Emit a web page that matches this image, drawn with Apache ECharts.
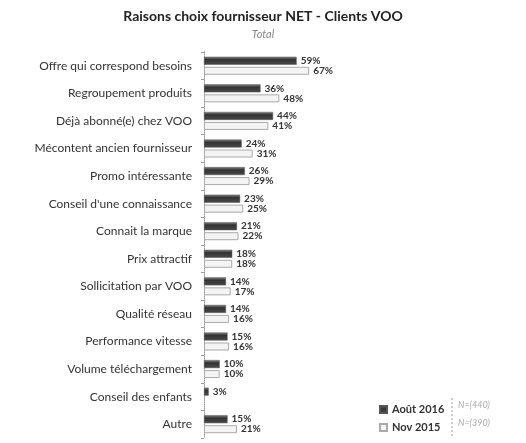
<!DOCTYPE html>
<html>
<head>
<meta charset="utf-8">
<script src="https://cdn.jsdelivr.net/npm/echarts@6/dist/echarts.min.js"></script>
<style>
html,body{margin:0;padding:0;background:#fff;}
#chart{width:526px;height:443px;}
</style>
</head>
<body>
<div id="chart"></div>
<script>
const categories = [
  "Offre qui correspond besoins",
  "Regroupement produits",
  "Déjà abonné(e) chez VOO",
  "Mécontent ancien fournisseur",
  "Promo intéressante",
  "Conseil d'une connaissance",
  "Connait la marque",
  "Prix attractif",
  "Sollicitation par VOO",
  "Qualité réseau",
  "Performance vitesse",
  "Volume téléchargement",
  "Conseil des enfants",
  "Autre"
];
const aout2016 = [59, 36, 44, 24, 26, 23, 21, 18, 14, 14, 15, 10, 3, 15];
const nov2015 = [67, 48, 41, 31, 29, 25, 22, 18, 17, 16, 16, 10, null, 21];
const seriesNames = ["Août 2016", "Nov 2015"];
const sampleSizes = ["N=(440)", "N=(390)"];

const chart = echarts.init(document.getElementById('chart'));
const fontFam = 'Lato, "Open Sans", sans-serif';
const labelStyle = {
  show: true, position: 'right', distance: 4,
  formatter: p => p.value == null ? '' : p.value + '%',
  fontFamily: fontFam, fontSize: 10, fontWeight: 'bold', color: '#333'
};
chart.setOption({
  animation: false,
  title: {
    text: 'Raisons choix fournisseur NET - Clients VOO',
    subtext: 'Total',
    left: 'center', top: 4, itemGap: 6,
    textStyle: {fontFamily: fontFam, fontSize: 14, fontWeight: 'bold', color: '#222'},
    subtextStyle: {fontFamily: fontFam, fontSize: 11, fontStyle: 'italic', color: '#888'}
  },
  legend: {
    data: seriesNames,
    orient: 'vertical',
    left: 374, top: 399,
    itemWidth: 7, itemHeight: 7, itemGap: 7,
    icon: 'rect',
    textStyle: {fontFamily: fontFam, fontSize: 11, fontWeight: 'bold', color: '#333'}
  },
  graphic: [
    {type: 'line', shape: {x1: 452, y1: 398, x2: 452, y2: 438},
     style: {stroke: '#999', lineWidth: 1, lineDash: [2, 2]}},
    {type: 'text', left: 458, top: 401,
     style: {text: sampleSizes[0], font: 'italic 9px Lato, sans-serif', fill: '#aaa'}},
    {type: 'text', left: 458, top: 419,
     style: {text: sampleSizes[1], font: 'italic 9px Lato, sans-serif', fill: '#aaa'}}
  ],
  grid: {left: 204, top: 52, width: 157, bottom: 5, containLabel: false},
  xAxis: {
    type: 'value', min: 0, max: 100, show: false
  },
  yAxis: {
    type: 'category', data: categories, inverse: true,
    axisLine: {show: true, lineStyle: {color: '#999', type: 'dotted'}},
    axisTick: {show: true, length: 3, lineStyle: {color: '#999'}},
    axisLabel: {fontFamily: fontFam, fontSize: 12, color: '#333', margin: 12}
  },
  series: [
    {
      name: seriesNames[0], type: 'bar', data: aout2016,
      barWidth: 8, barGap: '25%',
      itemStyle: {
        color: new echarts.graphic.LinearGradient(0, 0, 0, 1, [
          {offset: 0, color: '#888'},
          {offset: 0.35, color: '#333'},
          {offset: 1, color: '#4a4a4a'}
        ]),
        borderColor: '#555', borderWidth: 0.5
      },
      label: labelStyle
    },
    {
      name: seriesNames[1], type: 'bar', data: nov2015,
      barWidth: 8,
      itemStyle: {color: '#f4f4f4', borderColor: '#aaa', borderWidth: 1},
      label: labelStyle
    }
  ]
});
</script>
</body>
</html>
